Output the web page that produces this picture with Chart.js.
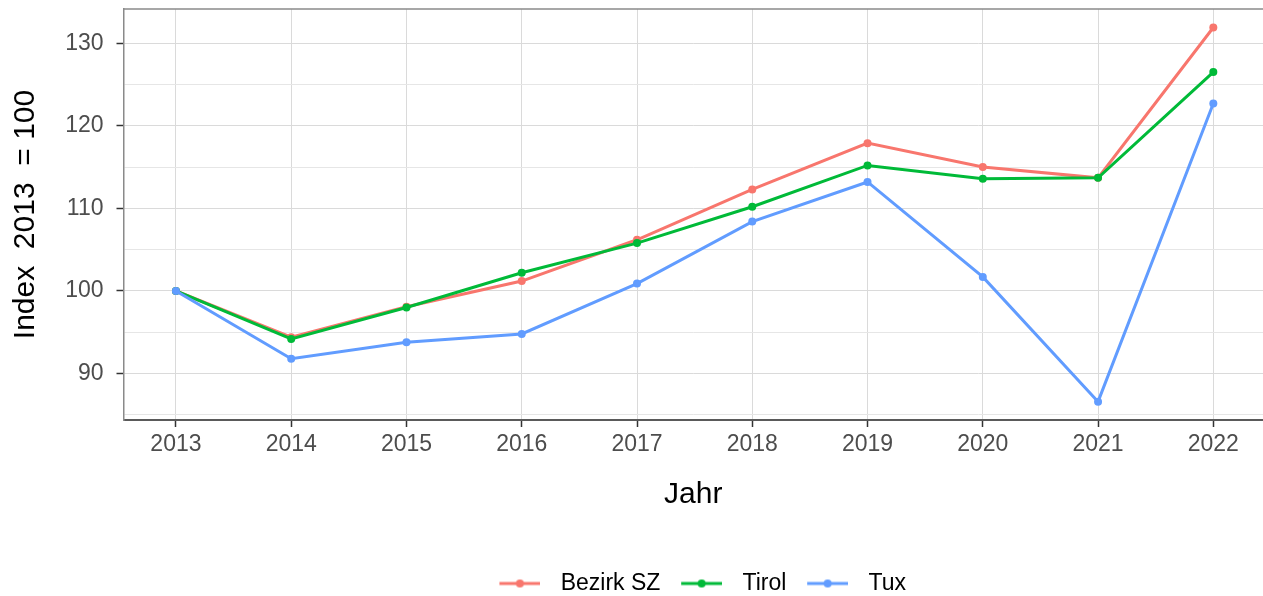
<!DOCTYPE html>
<html>
<head>
<meta charset="utf-8">
<script src="https://cdn.jsdelivr.net/npm/chart.js@4"></script>
<style>
  html, body { margin: 0; padding: 0; background: #fff; }
  #wrap { width: 1263px; height: 596px; position: relative; }
</style>
</head>
<body>
<div id="wrap"><canvas id="chart"></canvas></div>
<script>
const jahre = [2013, 2014, 2015, 2016, 2017, 2018, 2019, 2020, 2021, 2022];
const bezirkSZ = [100, 94.4, 98.1, 101.2, 106.2, 112.3, 117.9, 115.0, 113.7, 131.9];
const tirol = [100, 94.2, 98.0, 102.2, 105.8, 110.2, 115.2, 113.6, 113.7, 126.5];
const tux = [100, 91.8, 93.8, 94.8, 100.9, 108.4, 113.2, 101.7, 86.6, 122.7];

const serien = ["Bezirk SZ", "Tirol", "Tux"];
const farben = ["#F8766D", "#00BA38", "#619CFF"];
const werte = [bezirkSZ, tirol, tux];

const fontFamily = "'Liberation Sans', Arial, sans-serif";

// legend key: line with a dot, drawn into a small canvas
function legendKey(color) {
    const c = document.createElement("canvas");
    c.width = 51;
    c.height = 10;
    const g = c.getContext("2d");
    g.strokeStyle = color;
    g.lineWidth = 3;
    g.beginPath();
    g.moveTo(10, 5);
    g.lineTo(51, 5);
    g.stroke();
    g.fillStyle = color;
    g.beginPath();
    g.arc(30.5, 5, 4, 0, Math.PI * 2);
    g.fill();
    return c;
}
const keys = farben.map(legendKey);

const datasets = serien.map((name, i) => ({
    label: name,
    data: jahre.map((j, k) => ({ x: j, y: werte[i][k] })),
    borderColor: farben[i],
    backgroundColor: farben[i],
    borderWidth: 3,
    pointRadius: 4,
    pointBorderWidth: 0,
    pointBackgroundColor: farben[i],
    tension: 0,
    order: serien.length - i
}));

const topBorder = {
    id: "topBorder",
    afterDraw(chart) {
        const { ctx, chartArea } = chart;
        ctx.save();
        ctx.strokeStyle = "#8A8A8A";
        ctx.lineWidth = 1.5;
        ctx.beginPath();
        ctx.moveTo(chartArea.left, chartArea.top);
        ctx.lineTo(chartArea.right, chartArea.top);
        ctx.stroke();
        ctx.restore();
    }
};

new Chart(document.getElementById("chart"), {
    type: "line",
    data: { datasets: datasets },
    plugins: [topBorder],
    options: {
        responsive: true,
        maintainAspectRatio: false,
        animation: false,
        layout: { autoPadding: false, padding: { top: 9, right: 0, left: 0, bottom: -9 } },
        plugins: {
            tooltip: { enabled: false },
            legend: {
                position: "bottom",
                fullSize: false,
                labels: {
                    usePointStyle: true,
                    pointStyleWidth: 68.6,
                    padding: 2,
                    color: "#000",
                    font: { family: fontFamily, size: 23 },
                    generateLabels(chart) {
                        return chart.data.datasets.map((ds, i) => ({
                            text: ds.label,
                            pointStyle: keys[i],
                            fillStyle: "rgba(0,0,0,0)",
                            strokeStyle: "rgba(0,0,0,0)",
                            lineWidth: 0,
                            fontColor: "#000",
                            hidden: false,
                            datasetIndex: i
                        }));
                    }
                }
            }
        },
        scales: {
            x: {
                type: "linear",
                min: 2012.545,
                max: 2022.431,
                afterFit(scale) {
                    scale.height = 150;
                    scale.paddingLeft = 0;
                    scale.paddingRight = 0;
                },
                ticks: {
                    stepSize: 1,
                    includeBounds: false,
                    autoSkip: false,
                    maxRotation: 0,
                    padding: 4,
                    color: "#4D4D4D",
                    font: { family: fontFamily, size: 23 },
                    callback: v => String(v)
                },
                grid: {
                    color: "#DADADA",
                    lineWidth: 1,
                    tickLength: 7,
                    tickColor: "#333333",
                    tickWidth: 1.5
                },
                border: { color: "#5A5A5A", width: 2 },
                title: {
                    display: true,
                    text: "Jahr",
                    color: "#000",
                    font: { family: fontFamily, size: 30, lineHeight: 1.2 },
                    padding: { top: 0, bottom: 57.5 }
                }
            },
            y: {
                type: "linear",
                min: 84.38,
                max: 134.14,
                afterFit(scale) {
                    scale.width = 123.5;
                    scale.paddingTop = 0;
                    scale.paddingBottom = 0;
                },
                ticks: {
                    stepSize: 5,
                    includeBounds: false,
                    autoSkip: false,
                    padding: 13,
                    color: "#4D4D4D",
                    font: { family: fontFamily, size: 23 },
                    callback: v => (v % 10 === 0 ? String(v) : "")
                },
                grid: {
                    color: c => (c.tick && c.tick.value % 10 === 0 ? "#DADADA" : "#E6E6E6"),
                    lineWidth: 1,
                    tickLength: 7,
                    tickColor: c => (c.tick && c.tick.value % 10 === 0 ? "#333333" : "rgba(0,0,0,0)"),
                    tickWidth: 1.5
                },
                border: { color: "#8A8A8A", width: 1.5 },
                title: {
                    display: true,
                    text: "Index  2013  = 100",
                    color: "#000",
                    font: { family: fontFamily, size: 30, lineHeight: 1.2 },
                    padding: { top: 8, bottom: 0 }
                }
            }
        }
    }
});
</script>
</body>
</html>
